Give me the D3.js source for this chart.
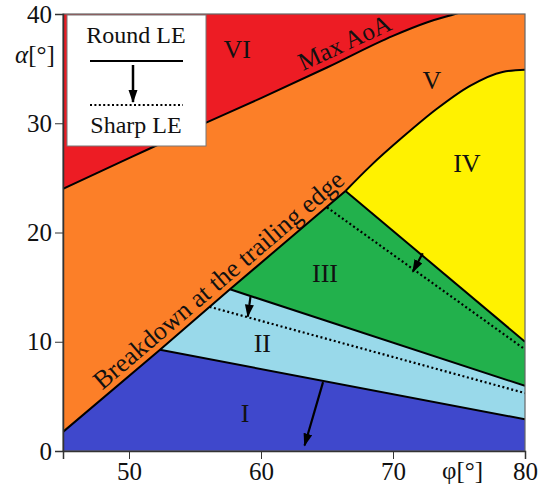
<!DOCTYPE html>
<html>
<head>
<meta charset="utf-8">
<script src="https://cdn.jsdelivr.net/npm/d3@7"></script>
<style>
  body { margin: 0; background: #fff; }
  text { font-family: "Liberation Serif", "Times New Roman", serif; fill: #111; }
</style>
</head>
<body>
<div id="chart"></div>
<script>
const xTicks = [50, 60, 70, 80];
const yTicks = [0, 10, 20, 30, 40];

// boundaries, [phi, alpha]
const maxAoA = [[45, 24.0], [50, 26.8], [55, 29.6], [60, 32.3], [65, 35.1], [70, 38.0], [72.5, 39.2], [74.7, 40], [78, 41.2]];
const breakdown = [[45, 1.75], [52.35, 9.27], [57.65, 14.8], [66.4, 23.8], [68.3, 26.1], [70.8, 28.8], [73.3, 31.3], [75.8, 33.4], [78.3, 34.7], [80, 34.9]];
const edgeIV = [[66.4, 23.8], [80, 10.0]];
const edgeIII = [[57.65, 14.8], [80, 5.96]];
const edgeII = [[52.35, 9.27], [80, 2.9]];
const dotIII = [[65.0, 22.3], [80, 9.3]];
const dotII = [[56.1, 13.2], [80, 5.3]];
const arrows = [
    [[72.25, 18.1], [71.5, 16.4]],
    [[59.2, 14.1], [59.0, 12.3]],
    [[64.7, 6.3], [63.3, 0.5]]
];
const regionLabels = ["I", "II", "III", "IV", "V", "VI"];
const labelPos = [[58.8, 3.5], [60.1, 9.9], [64.85, 16.3], [75.6, 26.4], [72.95, 34.0], [58.2, 36.8]];
const regionColors = ["#3F48CC", "#99D9EA", "#22B14C", "#FFF200", "#FC7F28", "#ED1C24"];

const margin = { top: 14, right: 15, bottom: 34, left: 63 };
const width = 540 - margin.left - margin.right;
const height = 485 - margin.top - margin.bottom;

const svg = d3.select("#chart")
    .append("svg")
    .attr("width", 540)
    .attr("height", 485);

const g = svg.append("g")
    .attr("transform", `translate(${margin.left},${margin.top})`);

const x = d3.scaleLinear().domain([45, 80]).range([0, width]);
const y = d3.scaleLinear().domain([0, 40]).range([height, 0]);

const defs = svg.append("defs");
defs.append("clipPath").attr("id", "plotclip")
    .append("rect").attr("width", width).attr("height", height);

defs.append("marker")
    .attr("id", "head")
    .attr("markerUnits", "userSpaceOnUse")
    .attr("markerWidth", 14).attr("markerHeight", 10)
    .attr("refX", 12).attr("refY", 4.5)
    .attr("orient", "auto")
    .append("path").attr("d", "M0,0 L13,4.5 L0,9 Z").attr("fill", "#000");

const lin = d3.line().x(d => x(d[0])).y(d => y(d[1]));
const smooth = d3.line().x(d => x(d[0])).y(d => y(d[1])).curve(d3.curveMonotoneX);

const plot = g.append("g").attr("clip-path", "url(#plotclip)");

// V: background
plot.append("rect").attr("width", width).attr("height", height).attr("fill", regionColors[4]);

// VI
plot.append("path")
    .attr("d", smooth(maxAoA) + `L${x(45)},${y(42)}Z`)
    .attr("fill", regionColors[5]);

// IV
plot.append("path")
    .attr("d", smooth(breakdown.slice(3)) + `L${x(edgeIV[1][0])},${y(edgeIV[1][1])}Z`)
    .attr("fill", regionColors[3]);

// III, II, I
plot.append("path")
    .attr("d", lin([breakdown[2], breakdown[3], edgeIV[1], edgeIII[1]]) + "Z")
    .attr("fill", regionColors[2]);
plot.append("path")
    .attr("d", lin([breakdown[1], breakdown[2], edgeIII[1], edgeII[1]]) + "Z")
    .attr("fill", regionColors[1]);
plot.append("path")
    .attr("d", lin([[45, 0], breakdown[0], breakdown[1], edgeII[1], [80, 0]]) + "Z")
    .attr("fill", regionColors[0]);

// boundary lines
const solid = [
    smooth(maxAoA),
    lin(breakdown.slice(0, 4)),
    smooth(breakdown.slice(3)),
    lin(edgeIV), lin(edgeIII), lin(edgeII)
];
solid.forEach(d => {
    plot.append("path").attr("d", d)
        .attr("fill", "none").attr("stroke", "#000").attr("stroke-width", 2);
});

[dotIII, dotII].forEach(d => {
    plot.append("path").attr("d", lin(d))
        .attr("fill", "none").attr("stroke", "#000")
        .attr("stroke-width", 2.2).attr("stroke-dasharray", "2,2.6");
});

arrows.forEach(a => {
    plot.append("line")
        .attr("x1", x(a[0][0])).attr("y1", y(a[0][1]))
        .attr("x2", x(a[1][0])).attr("y2", y(a[1][1]))
        .attr("stroke", "#000").attr("stroke-width", 2.2)
        .attr("marker-end", "url(#head)");
});

// region labels
regionLabels.forEach((t, i) => {
    g.append("text")
        .attr("x", x(labelPos[i][0]))
        .attr("y", y(labelPos[i][1]))
        .attr("text-anchor", "middle")
        .attr("dy", "0.35em")
        .attr("font-size", "26px")
        .text(t);
});

// line annotations
const angBd = Math.atan2(y(breakdown[3][1]) - y(breakdown[0][1]), x(breakdown[3][0]) - x(breakdown[0][0])) * 180 / Math.PI;
const bdAt = 57.5;
const bdAlpha = breakdown[0][1] + (bdAt - breakdown[0][0]) * (breakdown[3][1] - breakdown[0][1]) / (breakdown[3][0] - breakdown[0][0]);
g.append("text")
    .attr("transform", `translate(${x(bdAt)},${y(bdAlpha)}) rotate(${angBd})`)
    .attr("text-anchor", "middle")
    .attr("dy", -6)
    .attr("font-size", "26px")
    .text("Breakdown at the trailing edge");

g.append("text")
    .attr("transform", `translate(${x(66.6)},${y(36.7)}) rotate(-25)`)
    .attr("text-anchor", "middle")
    .attr("font-size", "25px")
    .text("Max AoA");

// frame
g.append("rect").attr("width", width).attr("height", height)
    .attr("fill", "none").attr("stroke", "#666").attr("stroke-width", 1.2);

// axes
const yAxis = g.append("g")
    .call(d3.axisLeft(y).tickValues(yTicks).tickSize(8).tickPadding(3));
const xAxis = g.append("g")
    .attr("transform", `translate(0,${height})`)
    .call(d3.axisBottom(x).tickValues(xTicks).tickSize(8).tickPadding(3));
[yAxis, xAxis].forEach(a => {
    a.select(".domain").attr("stroke", "#333").attr("stroke-width", 1.5);
    a.selectAll(".tick line").attr("stroke", "#333");
    a.selectAll("text")
        .attr("font-family", "'Liberation Serif', 'Times New Roman', serif")
        .attr("font-size", "25px").attr("fill", "#111");
});

g.append("text")
    .attr("x", -48).attr("y", 49)
    .attr("font-size", "25px")
    .html('<tspan font-style="italic">α</tspan>[°]');

g.append("text")
    .attr("x", 379).attr("y", 465)
    .attr("font-size", "25px")
    .text("φ[°]");

// legend
const leg = svg.append("g");
leg.append("rect")
    .attr("x", 67).attr("y", 15).attr("width", 139).attr("height", 131)
    .attr("fill", "#fff").attr("stroke", "#777").attr("stroke-width", 1);
leg.append("text").attr("x", 136).attr("y", 43)
    .attr("text-anchor", "middle").attr("font-size", "24px").text("Round LE");
leg.append("line").attr("x1", 90).attr("x2", 183).attr("y1", 61).attr("y2", 61)
    .attr("stroke", "#000").attr("stroke-width", 2);
leg.append("line").attr("x1", 133).attr("x2", 133).attr("y1", 65).attr("y2", 102)
    .attr("stroke", "#000").attr("stroke-width", 2.5)
    .attr("marker-end", "url(#head)");
leg.append("line").attr("x1", 90).attr("x2", 183).attr("y1", 105).attr("y2", 105)
    .attr("stroke", "#000").attr("stroke-width", 2).attr("stroke-dasharray", "2,2.4");
leg.append("text").attr("x", 136).attr("y", 133)
    .attr("text-anchor", "middle").attr("font-size", "24px").text("Sharp LE");
</script>
</body>
</html>
